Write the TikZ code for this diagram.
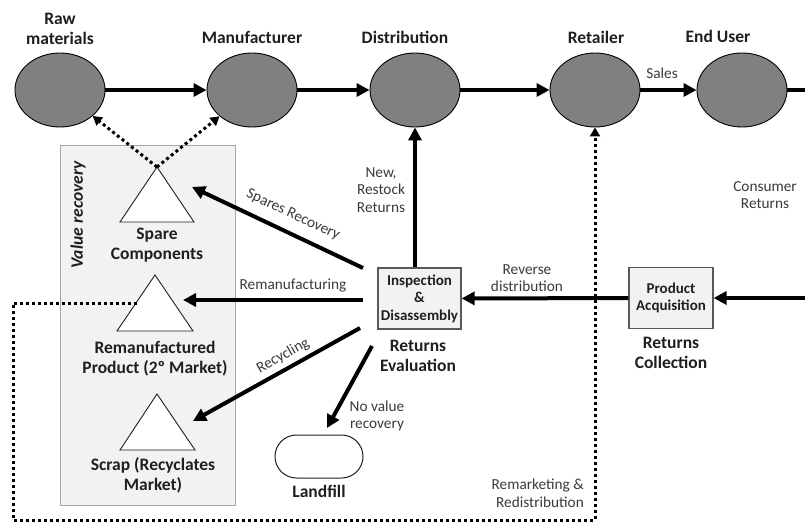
\documentclass[tikz,border=0pt]{standalone}
\usepackage{fontspec}
\setmainfont{Carlito}
\usetikzlibrary{shapes.geometric,shapes.misc,arrows.meta}
\definecolor{stagefill}{HTML}{808080}
\definecolor{txt}{HTML}{1F1F1F}
\definecolor{lbltxt}{HTML}{3A3A3A}
\definecolor{panelfill}{HTML}{F2F2F2}
\definecolor{panelline}{HTML}{A6A6A6}
\definecolor{boxline}{HTML}{595959}
\begin{document}
\begin{tikzpicture}[x=1pt,y=-1pt,
  stage/.style={ellipse,draw=black,line width=0.9pt,fill=stagefill,minimum width=90pt,minimum height=74pt,inner sep=0pt},
  ttl/.style={font=\fontsize{17.5}{20}\selectfont\bfseries,align=center,text=txt,inner sep=0pt},
  lbl/.style={font=\fontsize{15.3}{17.5}\selectfont,align=center,text=lbltxt,inner sep=0pt},
  flow/.style={line width=4pt,-{Triangle[length=13pt,width=13pt]}},
  dots/.style={line width=3pt,dash pattern=on 3pt off 3pt},
  dotsarrow/.style={dots,-{Triangle[length=9pt,width=10pt]}},
  procbox/.style={draw=boxline,fill=panelfill,line width=1.2pt,minimum width=83pt,minimum height=61pt,inner sep=0pt,align=center,font=\fontsize{15}{17.5}\selectfont\bfseries,text=txt},
  tri/.style={draw=txt,fill=white,line width=0.9pt,line join=miter},
]
\useasboundingbox (0,0) rectangle (805,522);

% value recovery panel
\node[draw=panelline,fill=panelfill,line width=1pt,minimum width=175pt,minimum height=360pt,inner sep=0pt] (panel) at (147.5,325) {};
\node[font=\fontsize{17.5}{20}\selectfont\bfseries\itshape,text=txt,rotate=90,inner sep=0pt] (vrlabel) at (78,215) {Value recovery};

% forward chain
\node[stage] (raw) at (60,90) {};
\node[stage] (man) at (252,90) {};
\node[stage] (dist) at (415,90) {};
\node[stage] (ret) at (595,90) {};
\node[stage] (end) at (742,90) {};

\node[ttl] (rawT) at (60,29) {Raw\\materials};
\node[ttl] (manT) at (252,37) {Manufacturer};
\node[ttl] (distT) at (405,37) {Distribution};
\node[ttl] (retT) at (596,37) {Retailer};
\node[ttl] (endT) at (718,36) {End User};
\node[lbl] (sales) at (662,73) {Sales};

\draw[flow] (raw) -- (man);
\draw[flow] (man) -- (dist);
\draw[flow] (dist) -- (ret);
\draw[flow] (ret) -- (end);
\coordinate (offR) at (805,90);
\draw[line width=4pt] (end) -- (offR);

% process boxes
\node[procbox] (insp) at (419.5,298.5) {Inspection\\\&\\Disassembly};
\node[procbox,minimum width=84pt] (acq) at (671,298) {Product\\Acquisition};
\node[ttl] (evalT) at (418,356) {Returns\\Evaluation};
\node[ttl] (collT) at (671,353) {Returns\\Collection};

\coordinate (inR) at (805,298);
\draw[flow] (inR) -- (acq);
\draw[flow] (acq) -- (insp);
\node[lbl] (revL) at (527,278) {Reverse\\distribution};
\node[lbl] (consL) at (765,195) {Consumer\\Returns};

\draw[flow] (dist.south |- insp.north) -- (dist.south);
\node[lbl] (newL) at (381,190) {New,\\Restock\\Returns};

% triangles
\coordinate (spA) at (157,167);
\draw[tri] (spA) -- (194,222) -- (120,222) -- cycle;
\coordinate (rmA) at (155,275);
\draw[tri] (rmA) -- (193,331) -- (117,331) -- cycle;
\coordinate (scA) at (157,394);
\draw[tri] (scA) -- (195,450) -- (120,450) -- cycle;

\node[ttl] (spT) at (157,245) {Spare\\Components};
\node[ttl] (rmT) at (155,359) {Remanufactured\\Product (2º Market)};
\node[ttl] (scT) at (153,475) {Scrap (Recyclates\\Market)};

% landfill
\node[rounded rectangle,draw=txt,fill=white,line width=1pt,minimum width=88pt,minimum height=43pt,inner sep=0pt] (lf) at (319,456.5) {};
\node[ttl] (lfT) at (319,491) {Landfill};

% recovery arrows
\coordinate (spTail) at (363,268);
\coordinate (spHead) at (192,187);
\draw[flow] (spTail) -- (spHead);
\node[lbl,rotate=-25] (spL) at (293,215) {Spares Recovery};

\coordinate (rmTail) at (363,300);
\coordinate (rmHead) at (183,300);
\draw[flow] (rmTail) -- (rmHead);
\node[lbl] (rmL) at (293,286) {Remanufacturing};

\coordinate (rcTail) at (360,328);
\coordinate (rcHead) at (193,421);
\draw[flow] (rcTail) -- (rcHead);
\node[lbl,rotate=29] (rcL) at (283,356) {Recycling};

\coordinate (nvTail) at (372,346);
\coordinate (nvHead) at (327,428);
\draw[flow] (nvTail) -- (nvHead);
\node[lbl] (nvL) at (377,416) {No value\\recovery};

% dotted returns
\draw[dotsarrow] (spA) -- (raw);
\draw[dotsarrow] (spA) -- (man);

\coordinate (lp1) at (137,303);
\coordinate (lp2) at (13,303);
\coordinate (lp3) at (13,520);
\coordinate (lp4) at (595,520);
\draw[dotsarrow] (lp1) -- (lp2) -- (lp3) -- (lp4) -- (ret.south);
\node[lbl,align=right,anchor=east] (remL) at (584,493) {Remarketing \&\\Redistribution};
\end{tikzpicture}
\end{document}
